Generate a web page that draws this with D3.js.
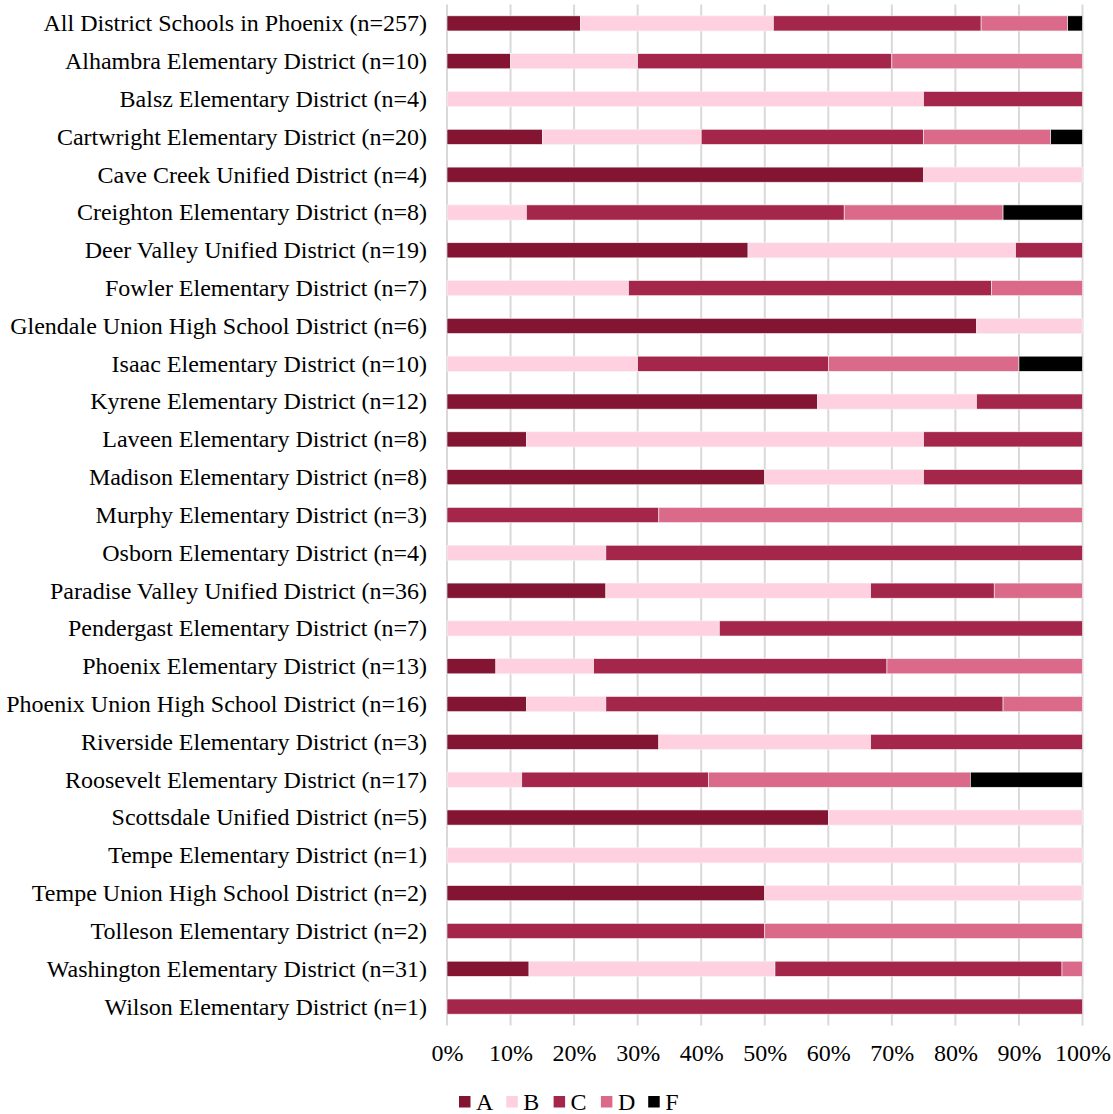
<!DOCTYPE html>
<html><head><meta charset="utf-8">
<script src="https://cdn.jsdelivr.net/npm/d3@7"></script>
<style>body{margin:0;background:#fff}</style>
</head><body>
<svg id="chart" width="1113" height="1114"></svg>
<script>
const districts = [
 "All District Schools in Phoenix (n=257)","Alhambra Elementary District (n=10)","Balsz Elementary District (n=4)",
 "Cartwright Elementary District (n=20)","Cave Creek Unified District (n=4)","Creighton Elementary District (n=8)",
 "Deer Valley Unified District (n=19)","Fowler Elementary District (n=7)","Glendale Union High School District (n=6)",
 "Isaac Elementary District (n=10)","Kyrene Elementary District (n=12)","Laveen Elementary District (n=8)",
 "Madison Elementary District (n=8)","Murphy Elementary District (n=3)","Osborn Elementary District (n=4)",
 "Paradise Valley Unified District (n=36)","Pendergast Elementary District (n=7)","Phoenix Elementary District (n=13)",
 "Phoenix Union High School District (n=16)","Riverside Elementary District (n=3)","Roosevelt Elementary District (n=17)",
 "Scottsdale Unified District (n=5)","Tempe Elementary District (n=1)","Tempe Union High School District (n=2)",
 "Tolleson Elementary District (n=2)","Washington Elementary District (n=31)","Wilson Elementary District (n=1)"
];
const grades = ["A","B","C","D","F"];
// school counts per grade
const countA = [54,1,0,3,3,0,9,0,5,0,7,1,4,0,0,9,0,1,2,1,0,3,0,1,0,4,0];
const countB = [78,2,3,5,1,1,8,2,1,3,3,5,2,0,1,15,3,2,2,1,2,2,1,1,0,12,0];
const countC = [84,4,1,7,0,4,2,4,0,3,2,2,2,1,3,7,4,6,10,1,5,0,0,0,1,14,1];
const countD = [35,3,0,4,0,2,0,1,0,3,0,0,0,2,0,5,0,4,2,0,7,0,0,0,1,1,0];
const countF = [6,0,0,1,0,1,0,0,0,1,0,0,0,0,0,0,0,0,0,0,3,0,0,0,0,0,0];
const tickValues = [0,0.1,0.2,0.3,0.4,0.5,0.6,0.7,0.8,0.9,1];
const colors = ["#831532","#FFD1E0","#A5264B","#DB6A8A","#000000"];

const rows = districts.map((d,i)=>{
  const r = {district:d, A:countA[i], B:countB[i], C:countC[i], D:countD[i], F:countF[i]};
  const tot = r.A+r.B+r.C+r.D+r.F;
  grades.forEach(g=> r[g] = r[g]/tot);
  return r;
});

const svg = d3.select("#chart");
const font = "Liberation Serif, Times New Roman, serif";
const x = d3.scaleLinear().domain([0,1]).range([447,1082.5]);
const y = d3.scaleBand().domain(districts).range([4.5,1025.5]).paddingInner(0.6).paddingOuter(0.3);
const color = d3.scaleOrdinal().domain(grades).range(colors);

// gridlines
svg.append("g").selectAll("line").data(tickValues).join("line")
  .attr("x1",d=>x(d)).attr("x2",d=>x(d)).attr("y1",4.5).attr("y2",1025.5)
  .attr("stroke","#d9d9d9").attr("stroke-width",2);

const stack = d3.stack().keys(grades)(rows);
svg.append("g").selectAll("g").data(stack).join("g")
  .attr("fill",d=>color(d.key))
  .selectAll("rect").data(d=>d.filter(p=>p[1]-p[0]>0)).join("rect")
  .attr("x",d=>x(d[0])).attr("width",d=>x(d[1])-x(d[0]))
  .attr("y",d=>y(d.data.district)).attr("height",y.bandwidth())
  .attr("stroke","#f4f4f4").attr("stroke-width",0.6);

// y labels
svg.append("g").selectAll("text").data(districts).join("text")
  .attr("x",427).attr("y",d=>y(d)+y.bandwidth()/2).attr("dy","0.33em")
  .attr("text-anchor","end").attr("font-family",font).attr("font-size",24).attr("fill","#000")
  .text(d=>d);

// x axis labels
const xAxis = d3.axisBottom(x).tickValues(tickValues).tickFormat(d3.format(".0%")).tickSize(0).tickPadding(0);
const ax = svg.append("g").attr("transform","translate(0,1061)").call(xAxis);
ax.select(".domain").remove();
ax.selectAll("text").attr("font-family",font).attr("font-size",24).attr("fill","#000").attr("dy",0).attr("y",0);

// legend
const lg = svg.append("g").selectAll("g").data(grades).join("g")
  .attr("transform",(d,i)=>`translate(${459+i*47.3},1096)`);
lg.append("rect").attr("x",0).attr("y",0).attr("width",11.5).attr("height",11.5).attr("fill",d=>color(d));
lg.append("text").attr("x",17).attr("y",13.5).attr("font-family",font).attr("font-size",24).text(d=>d);
</script>
</body></html>
